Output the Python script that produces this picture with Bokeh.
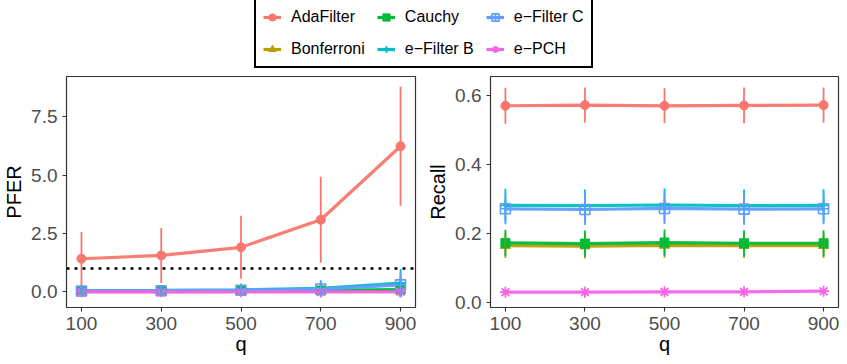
from bokeh.plotting import figure
from bokeh.models import Range1d, FixedTicker, Legend, LegendItem, ColumnDataSource, Span
from bokeh.layouts import column, row
from bokeh.embed import file_html
from bokeh.resources import INLINE

q = [100, 300, 500, 700, 900]
methods = ["AdaFilter", "Bonferroni", "Cauchy", "e\u2212Filter B", "e\u2212Filter C", "e\u2212PCH"]
colors = ["#F8766D", "#B79F00", "#00BA38", "#00BFC4", "#619CFF", "#F564E3"]
markers = ["circle", "triangle", "square", "cross", "square_cross", "asterisk"]

# PFER means and standard deviations
pfer_adafilter = [1.42, 1.56, 1.91, 3.09, 6.24]
pfer_adafilter_sd = [1.15, 1.18, 1.35, 1.84, 2.55]
pfer_bonferroni = [0.01, 0.01, 0.02, 0.03, 0.05]
pfer_bonferroni_sd = [0.08, 0.09, 0.12, 0.15, 0.2]
pfer_cauchy = [0.02, 0.03, 0.04, 0.06, 0.10]
pfer_cauchy_sd = [0.12, 0.14, 0.17, 0.2, 0.3]
pfer_efilterb = [0.05, 0.06, 0.09, 0.15, 0.38]
pfer_efilterb_sd = [0.22, 0.23, 0.27, 0.35, 0.6]
pfer_efilterc = [0.04, 0.05, 0.07, 0.12, 0.30]
pfer_efilterc_sd = [0.22, 0.23, 0.26, 0.35, 0.53]
pfer_epch = [0.0, 0.0, 0.0, 0.0, 0.0]
pfer_epch_sd = [0.0, 0.0, 0.0, 0.0, 0.0]
pfer_target = 1.0

# Recall means and standard deviations
recall_adafilter = [0.570, 0.572, 0.570, 0.571, 0.572]
recall_adafilter_sd = [0.052, 0.051, 0.051, 0.052, 0.051]
recall_bonferroni = [0.164, 0.163, 0.165, 0.164, 0.164]
recall_bonferroni_sd = [0.036, 0.036, 0.036, 0.036, 0.036]
recall_cauchy = [0.172, 0.170, 0.173, 0.171, 0.171]
recall_cauchy_sd = [0.038, 0.038, 0.038, 0.038, 0.038]
recall_efilterb = [0.281, 0.280, 0.282, 0.280, 0.281]
recall_efilterb_sd = [0.048, 0.047, 0.048, 0.047, 0.047]
recall_efilterc = [0.271, 0.269, 0.272, 0.270, 0.271]
recall_efilterc_sd = [0.045, 0.045, 0.045, 0.045, 0.045]
recall_epch = [0.029, 0.029, 0.030, 0.030, 0.032]
recall_epch_sd = [0.005, 0.005, 0.005, 0.005, 0.005]

pfer_series = [(pfer_adafilter, pfer_adafilter_sd), (pfer_bonferroni, pfer_bonferroni_sd),
               (pfer_cauchy, pfer_cauchy_sd), (pfer_efilterb, pfer_efilterb_sd),
               (pfer_efilterc, pfer_efilterc_sd), (pfer_epch, pfer_epch_sd)]
recall_series = [(recall_adafilter, recall_adafilter_sd), (recall_bonferroni, recall_bonferroni_sd),
                 (recall_cauchy, recall_cauchy_sd), (recall_efilterb, recall_efilterb_sd),
                 (recall_efilterc, recall_efilterc_sd), (recall_epch, recall_epch_sd)]

x_ticks = [100, 300, 500, 700, 900]
pfer_ticks = [0.0, 2.5, 5.0, 7.5]
pfer_tick_labels = ["0.0", "2.5", "5.0", "7.5"]
recall_ticks = [0.0, 0.2, 0.4, 0.6]
recall_tick_labels = ["0.0", "0.2", "0.4", "0.6"]

FONT = "Liberation Sans"


def marker_style(i):
    m = markers[i]
    c = colors[i]
    if m in ("cross", "asterisk"):
        return dict(marker=m, size=11, line_color=c, line_width=1.8, fill_color=None)
    if m == "square_cross":
        return dict(marker=m, size=10, line_color=c, line_width=1.6, fill_color=None)
    if m == "triangle":
        return dict(marker=m, size=10, line_color=c, fill_color=c, line_width=1)
    return dict(marker=m, size=9, line_color=c, fill_color=c, line_width=1)


def make_panel(series, ylabel, yrange, ticks, tick_labels, width, mbl, mbr):
    p = figure(width=width, height=294, output_backend="svg", toolbar_location=None,
               x_range=Range1d(62.5, 937.5), y_range=Range1d(*yrange),
               min_border_left=mbl, min_border_right=mbr, min_border_top=6, min_border_bottom=57)
    p.grid.visible = False
    p.background_fill_color = "white"
    p.border_fill_color = "white"
    p.outline_line_color = "#333333"
    p.outline_line_width = 1.2
    p.outline_line_alpha = 1.0
    for ax in (p.xaxis[0], p.yaxis[0]):
        ax.axis_line_color = None
        ax.major_tick_line_color = "#333333"
        ax.major_tick_line_width = 1.1
        ax.major_tick_out = 4
        ax.major_tick_in = 0
        ax.minor_tick_line_color = None
        ax.major_label_text_font = FONT
        ax.major_label_text_font_size = "19px"
        ax.major_label_text_color = "#4D4D4D"
        ax.axis_label_text_font = FONT
        ax.axis_label_text_font_size = "20px"
        ax.axis_label_text_font_style = "normal"
        ax.axis_label_text_color = "black"
    p.xaxis.major_label_standoff = 5
    p.xaxis.axis_label_standoff = 0
    p.yaxis.major_label_standoff = 5
    p.yaxis.axis_label_standoff = 3
    p.xaxis.ticker = FixedTicker(ticks=x_ticks)
    p.yaxis.ticker = FixedTicker(ticks=ticks)
    p.yaxis.major_label_overrides = {t: l for t, l in zip(ticks, tick_labels)}
    p.xaxis.axis_label = "q"
    p.yaxis.axis_label = ylabel

    srcs = []
    for (mean, sd) in series:
        srcs.append(ColumnDataSource(dict(q=q, m=mean,
                                          lo=[a - b for a, b in zip(mean, sd)],
                                          hi=[a + b for a, b in zip(mean, sd)])))
    for i, s in enumerate(srcs):
        p.line("q", "m", source=s, line_color=colors[i], line_width=3.2, line_alpha=0.95)
    for i, s in enumerate(srcs):
        p.scatter("q", "m", source=s, **marker_style(i))
    for i, s in enumerate(srcs):
        p.segment("q", "lo", "q", "hi", source=s, line_color=colors[i], line_width=1.8)
    return p


p1 = make_panel(pfer_series, "PFER", (-0.67, 9.23), pfer_ticks, pfer_tick_labels, 424, 65, 9)
p1.add_layout(Span(location=pfer_target, dimension="width", line_color="black",
                   line_dash="3 5", line_width=2.6))
p2 = make_panel(recall_series, "Recall", (-0.0154, 0.655), recall_ticks, recall_tick_labels, 423, 64, 9)

# legend figure
lg = figure(width=847, height=70, output_backend="svg", toolbar_location=None,
            x_range=Range1d(0, 1), y_range=Range1d(0, 1),
            min_border_left=0, min_border_right=0, min_border_top=0, min_border_bottom=0)
lg.axis.visible = False
lg.grid.visible = False
lg.outline_line_color = None
items = []
for i, name in enumerate(methods):
    dummy = ColumnDataSource(dict(x=[-10, -11], y=[-10, -11]))
    r1 = lg.line("x", "y", source=dummy, line_color=colors[i], line_width=3.2)
    r2 = lg.scatter("x", "y", source=dummy, **marker_style(i))
    items.append(LegendItem(label=name, renderers=[r1, r2]))
legend = Legend(items=items, location=(254, 2), nrows=2, orientation="vertical",
                border_line_color="black", border_line_width=2, border_line_alpha=1.0,
                label_text_font=FONT, label_text_font_size="16px", label_text_color="black",
                glyph_width=18, glyph_height=20, label_standoff=10,
                spacing=12, padding=7, margin=0, background_fill_color="white",
                background_fill_alpha=1.0)
lg.add_layout(legend, "center")

layout = column(lg, row(p1, p2))
open("out.html", "w").write(file_html(layout, INLINE))
